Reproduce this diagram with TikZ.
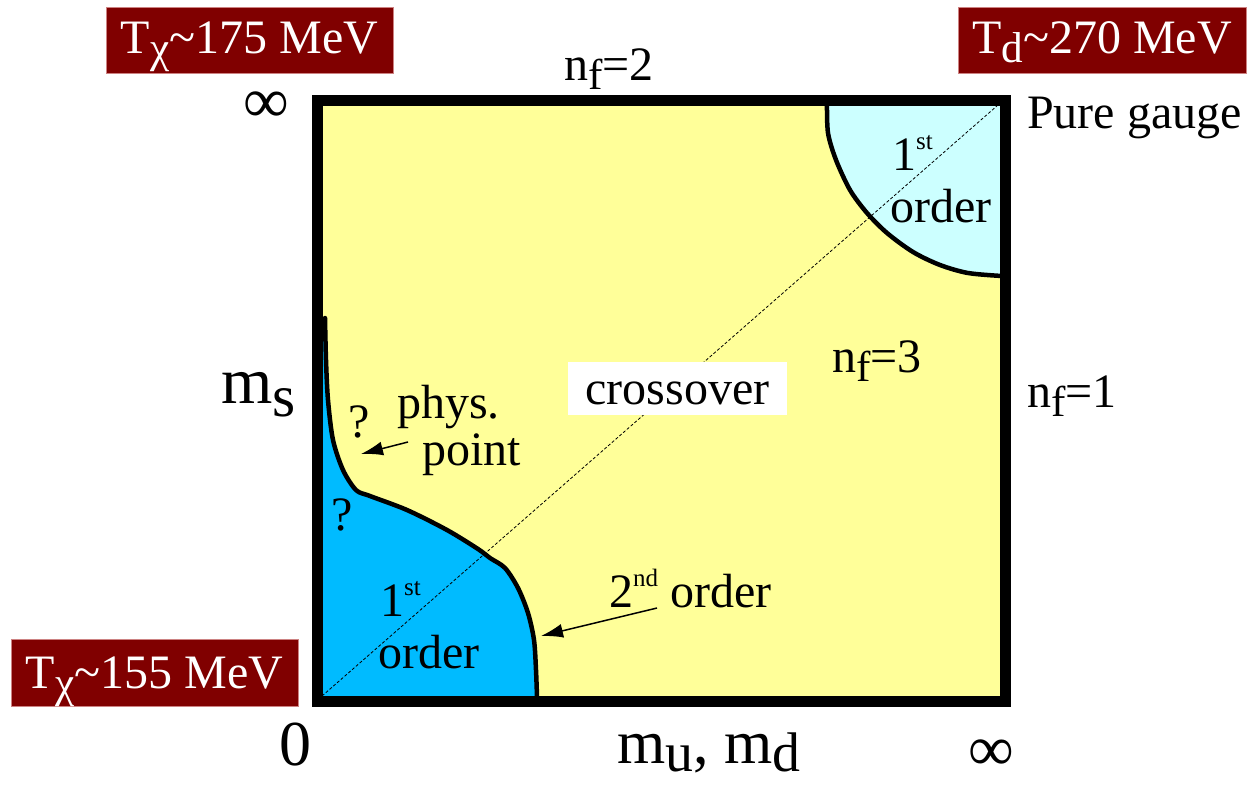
\documentclass[tikz,border=0pt]{standalone}
\usepackage{fontspec}
\setmainfont{Liberation Serif}
\usetikzlibrary{arrows.meta}
\definecolor{ylw}{RGB}{255,255,153}
\definecolor{blu}{RGB}{0,187,255}
\definecolor{cyn}{RGB}{204,255,255}
\definecolor{dred}{RGB}{128,0,0}
\definecolor{pinkline}{RGB}{205,130,130}
\newcommand\myfs[1]{\fontsize{#1}{#1}\selectfont}
\newcommand\dn[1]{\raisebox{-0.2em}{\scalebox{0.9}{#1}}}
\newcommand\dnl[1]{\raisebox{-0.13em}{\scalebox{0.9}{#1}}}
\newcommand\supx[1]{\raisebox{21pt}{\myfs{25}#1}}
\tikzset{
  lab/.style={anchor=base west, inner sep=0pt, font=\myfs{48}},
  biglab/.style={anchor=base west, inner sep=0pt, font=\myfs{64}},
  redbox/.style={fill=dred, draw=pinkline, line width=1pt, text=white, inner sep=0pt, font=\myfs{48}},
  curve/.style={line width=4.5pt, line join=round, line cap=round},
  pointer/.style={line width=1.5pt, -{Latex[length=22pt,width=14pt]}},
}
\begin{document}
\begin{tikzpicture}[x=1pt,y=-1pt]
\useasboundingbox (0,0) rectangle (1249,785);
% regions
\fill[ylw] (322,105) rectangle (1000,696);
\fill[blu] (322,318) -- plot[smooth] coordinates {(325,318) (326,360) (328,400) (333,440) (343,470) (356,490) (370,496) (407,510) (447,530) (478,549) (490,558) (505,568) (518,588) (528,613) (534,640) (536,670) (537,697)} -- (322,697) -- cycle;
\fill[cyn] (827,105) -- plot[smooth] coordinates {(827,103) (828,133) (836,160) (850,190) (867,213) (887,233) (913,252) (940,265) (968,273) (1002,276)} -- (1000,105) -- cycle;
% diagonal
\coordinate (c00) at (322,696);
\coordinate (c11) at (998,105);
\draw[densely dashed, line width=0.8pt] (c00) -- (c11);
% crossover label box
\node[fill=white, minimum width=219pt, minimum height=53pt, inner sep=0pt, font=\myfs{48}, text height=33pt, text depth=1pt] (cross) at (677.5,388.5) {crossover};
% boundary curves
\draw[curve] plot[smooth] coordinates {(325,318) (326,360) (328,400) (333,440) (343,470) (356,490) (370,496) (407,510) (447,530) (478,549) (490,558) (505,568) (518,588) (528,613) (534,640) (536,670) (537,697)};
\draw[curve] plot[smooth] coordinates {(827,103) (828,133) (836,160) (850,190) (867,213) (887,233) (913,252) (940,265) (968,273) (1002,276)};
% frame
\draw[line width=11pt] (317,100) rectangle (1005,701);
% red boxes
\node[redbox, minimum width=287pt, minimum height=66pt, text height=36pt, text depth=10pt] (t175) at (249.5,40) {T\dn{χ}\textasciitilde175 MeV};
\node[redbox, minimum width=288pt, minimum height=66pt, text height=36pt, text depth=10pt] (t270) at (1102,40) {T\dn{d}\textasciitilde270 MeV};
\node[redbox, minimum width=287pt, minimum height=67pt, text height=38pt, text depth=7pt] (t155) at (154.5,672.5) {T\dn{χ}\textasciitilde155 MeV};
% axis labels
\node[biglab] (inftl) at (243,122) {∞};
\node[biglab] (zero) at (279,765) {0};
\node[biglab] (infbr) at (968,770) {∞};
\node[biglab, font=\myfs{66}] (ms) at (221,403) {m\dn{s}};
\node[biglab, font=\myfs{62}] (mumd) at (617,763) {m\dnl{u}, m\dnl{d}};
\node[lab] (nf2) at (564,80) {n\dn{f}=2};
\node[lab] (nf1) at (1027,407) {n\dn{f}=1};
\node[lab] (nf3) at (832,372) {n\dn{f}=3};
\node[lab] (pure) at (1027,128) {Pure gauge};
% region labels
\node[lab] (st1a) at (380,616) {1\supx{st}};
\node[lab] (ord1a) at (378,668) {order};
\node[lab] (st1b) at (892,170) {1\supx{st}};
\node[lab] (ord1b) at (890,222) {order};
\node[lab] (nd2) at (609,607) {2\supx{nd} order};
\node[lab] (phys) at (397,418) {phys.};
\node[lab] (point) at (422,465) {point};
\node[lab] (q1) at (348,437) {?};
\node[lab] (q2) at (331,530) {?};
% pointers
\coordinate (ppstart) at (408,442);
\coordinate (pptip) at (361,454);
\draw[pointer] (ppstart) -- (pptip);
\coordinate (ndstart) at (657,608);
\coordinate (ndtip) at (541,636);
\draw[pointer] (ndstart) -- (ndtip);
\end{tikzpicture}
\end{document}
